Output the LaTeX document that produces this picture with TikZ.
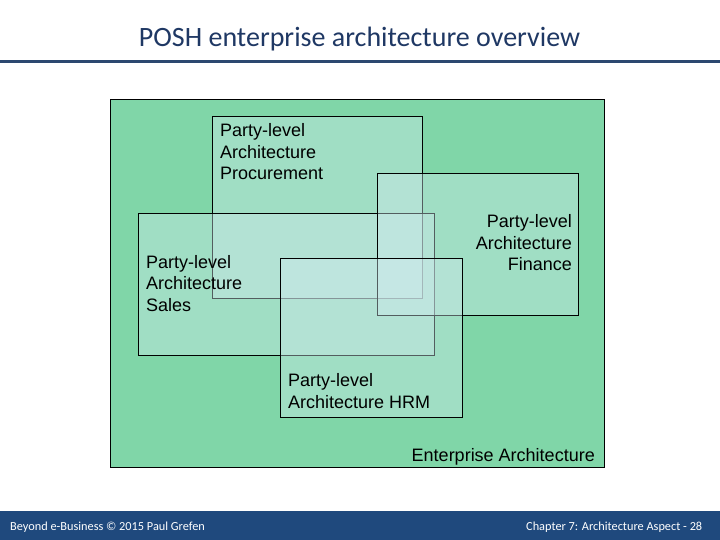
\documentclass[tikz,border=0pt]{standalone}
\usepackage{fontspec}
\setmainfont{Liberation Sans}
\newfontfamily\slidefont{Carlito}
\usepackage{xcolor}
\usetikzlibrary{positioning}
\definecolor{entgreen}{RGB}{128,214,168}
\definecolor{partyfill}{RGB}{208,234,238}
\definecolor{titleblue}{RGB}{31,56,100}
\definecolor{ruleblue}{RGB}{44,72,112}
\definecolor{footblue}{RGB}{31,73,125}

\begin{document}
\begin{tikzpicture}[x=1pt, y=-1pt,
  area/.style={draw, line width=0.9pt, anchor=north west, inner sep=0pt, outer sep=0pt},
  party/.style={area, fill=partyfill, fill opacity=0.4},
  lab/.style={font=\fontsize{18}{21.6}\selectfont, inner sep=0pt},
  foottext/.style={font=\slidefont\fontsize{12.3}{14}\selectfont, text=white, inner sep=0pt}]
  \useasboundingbox (0,0) rectangle (720,540);
  \fill[white] (0,0) rectangle (720,540);
  \node[anchor=base, font=\slidefont\fontsize{28}{32}\selectfont, text=titleblue, inner sep=0pt] (title) at (359.5,46.5) {POSH enterprise architecture overview};
  \draw[ruleblue, line width=2.5pt] (0,61.3) -- (720,61.3);
  \node[area, fill=entgreen, minimum width=494pt, minimum height=368pt] (ent) at (110,99) {};
  \node[party, minimum width=210pt, minimum height=182pt] (proc) at (212,116) {};
  \node[party, minimum width=296pt, minimum height=142pt] (sales) at (138,213) {};
  \node[party, minimum width=201pt, minimum height=142pt] (fin) at (377,173) {};
  \node[party, minimum width=182pt, minimum height=159pt] (hrm) at (280,258) {};
  \node[lab, anchor=north west, align=left] (proclab) at ([xshift=8pt, yshift=-7.5pt]proc.north west) {Party-level\\Architecture\\Procurement};
  \node[lab, anchor=north west, align=left] (saleslab) at ([xshift=8pt, yshift=-42pt]sales.north west) {Party-level\\Architecture\\Sales};
  \node[lab, anchor=north east, align=right] (finlab) at ([xshift=-6pt, yshift=-41.5pt]fin.north east) {Party-level\\Architecture\\Finance};
  \node[lab, anchor=north west, align=left] (hrmlab) at ([xshift=8pt, yshift=-115.5pt]hrm.north west) {Party-level\\Architecture HRM};
  \node[lab, anchor=base east] (entlab) at ([xshift=-9pt, yshift=6pt]ent.south east) {Enterprise Architecture};
  \node[fill=footblue, anchor=north west, inner sep=0pt, minimum width=720pt, minimum height=29pt] (foot) at (0,511) {};
  \node[foottext, anchor=base west] (footleft) at ([xshift=10pt, yshift=10pt]foot.south west) {Beyond e-Business © 2015 Paul Grefen};
  \node[foottext, anchor=base east] (footright) at ([xshift=-18pt, yshift=10pt]foot.south east) {Chapter 7: Architecture Aspect - 28};
\end{tikzpicture}
\end{document}
